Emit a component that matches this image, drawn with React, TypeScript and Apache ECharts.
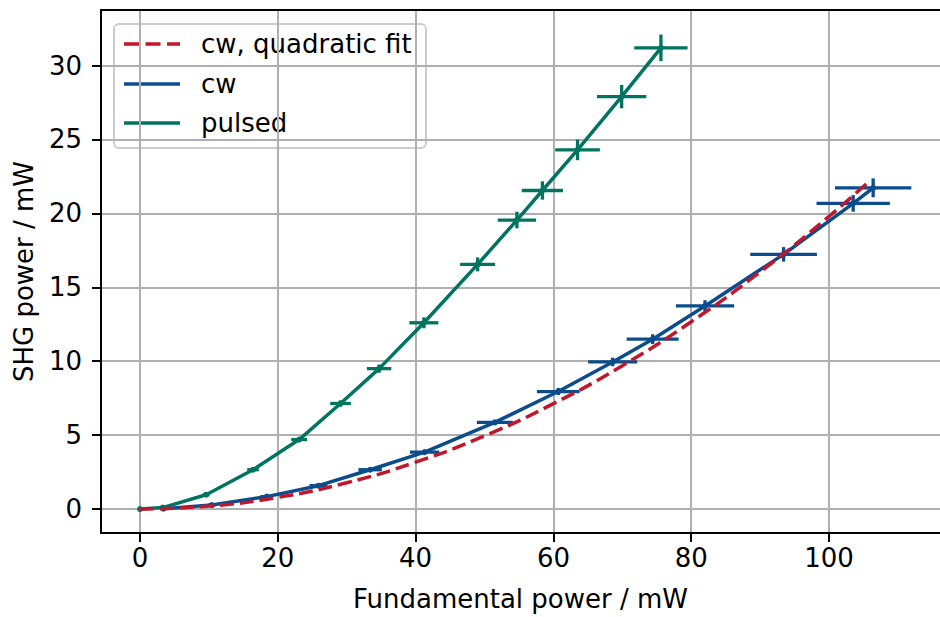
import React, { useEffect, useRef } from "react";
import * as echarts from "echarts";

// ---- data ----
const pulsedX = [0, 3.3, 9.6, 16.4, 23.1, 29.1, 34.7, 41.2, 49.0, 54.7, 58.4, 63.5, 69.9, 75.6];
const pulsedY = [0, 0.1, 0.97, 2.66, 4.7, 7.14, 9.5, 12.6, 16.55, 19.55, 21.55, 24.3, 27.9, 31.2];
const pulsedXErr = [0, 0.17, 0.49, 0.84, 1.16, 1.5, 1.77, 2.1, 2.54, 2.78, 3.0, 3.24, 3.58, 3.87];
const pulsedYErr = [0, 0.01, 0.03, 0.08, 0.14, 0.21, 0.28, 0.37, 0.47, 0.56, 0.62, 0.7, 0.79, 0.9];

const cwX = [3.4, 10.4, 18.4, 25.9, 33.4, 41.3, 51.5, 60.7, 68.6, 74.4, 82.0, 93.4, 103.5, 106.4];
const cwY = [0.02, 0.27, 0.84, 1.58, 2.66, 3.85, 5.86, 7.95, 9.95, 11.49, 13.74, 17.23, 20.68, 21.73];
const cwXErr = [0.17, 0.52, 0.94, 1.3, 1.7, 2.13, 2.61, 3.1, 3.56, 3.77, 4.23, 4.84, 5.32, 5.54];
const cwYErr = [0, 0.01, 0.03, 0.05, 0.08, 0.12, 0.18, 0.24, 0.29, 0.33, 0.39, 0.49, 0.56, 0.64];

const fitX = [0, 10, 20, 30, 40, 50, 60, 70, 80, 90, 100, 106];
const fitY = [0, 0.2, 0.79, 1.78, 3.17, 4.95, 7.13, 9.7, 12.67, 16.04, 19.8, 22.25];

const xTicks = [0, 20, 40, 60, 80, 100];
const yTicks = [0, 5, 10, 15, 20, 25, 30];

const legendLabels = ["cw, quadratic fit", "cw", "pulsed"];

const RED = "#C1172C";
const BLUE = "#0B4C8C";
const GREEN = "#007460";
const FONT = "DejaVu Sans";
const FS = 26;

function errRender(color: string) {
  return (params: any, api: any) => {
    const x = api.value(0);
    const y = api.value(1);
    const ex = api.value(2);
    const ey = api.value(3);
    const l = api.coord([x - ex, y]);
    const r = api.coord([x + ex, y]);
    const b = api.coord([x, y - ey]);
    const t = api.coord([x, y + ey]);
    return {
      type: "group",
      children: [
        { type: "line", shape: { x1: l[0], y1: l[1], x2: r[0], y2: r[1] }, style: { stroke: color, lineWidth: 3.3 } },
        { type: "line", shape: { x1: b[0], y1: b[1], x2: t[0], y2: t[1] }, style: { stroke: color, lineWidth: 3.3 } },
      ],
    };
  };
}

export default function App() {
  const ref = useRef<HTMLDivElement>(null);
  useEffect(() => {
    if (!ref.current) return;
    const chart = echarts.init(ref.current, undefined, { renderer: "svg" });
    const zip = (a: number[], b: number[]) => a.map((v, i) => [v, b[i]]);
    const zip4 = (a: number[], b: number[], c: number[], d: number[]) => a.map((v, i) => [v, b[i], c[i], d[i]]);

    const legendColors = [RED, BLUE, GREEN];
    const legendRowsY = [44, 84, 123];
    const legendChildren: any[] = [
      {
        type: "rect",
        shape: { x: 114, y: 24, width: 312, height: 124, r: 5 },
        style: { fill: "rgba(255,255,255,0.85)", stroke: "#cccccc", lineWidth: 2 },
      },
    ];
    legendLabels.forEach((lab, i) => {
      legendChildren.push({
        type: "line",
        shape: { x1: 124, y1: legendRowsY[i], x2: 180, y2: legendRowsY[i] },
        style: { stroke: legendColors[i], lineWidth: 3.5, lineDash: i === 0 ? [15, 6.5] : null },
      });
      legendChildren.push({
        type: "text",
        x: 201,
        y: legendRowsY[i],
        style: { text: lab, fill: "#000", font: `${FS}px '${FONT}'`, textVerticalAlign: "middle", verticalAlign: "middle" },
      });
    });

    const axisCommon = {
      axisLine: { show: true, onZero: false, lineStyle: { color: "#000", width: 2 } },
      axisTick: { show: true, length: 9, lineStyle: { color: "#000", width: 2 } },
      splitLine: { show: true, lineStyle: { color: "#b0b0b0", width: 2 } },
    };

    chart.setOption({
      animation: false,
      backgroundColor: "#fff",
      grid: { left: 101, top: 10, right: 0, bottom: 83, containLabel: false },
      xAxis: [
        {
          type: "value",
          min: -5.66,
          max: 116.1,
          position: "bottom",
          ...axisCommon,
          axisTick: { ...axisCommon.axisTick, customValues: xTicks },
          axisLabel: { customValues: xTicks, fontSize: FS, color: "#000", fontFamily: FONT, margin: 12 },
          name: "Fundamental power / mW",
          nameLocation: "middle",
          nameGap: 53,
          nameTextStyle: { fontSize: FS, color: "#000", fontFamily: FONT },
        },
        {
          type: "value",
          min: -5.66,
          max: 116.1,
          position: "top",
          axisLine: { show: true, onZero: false, lineStyle: { color: "#000", width: 2 } },
          axisTick: { show: false },
          axisLabel: { show: false },
          splitLine: { show: false },
        },
      ],
      yAxis: {
        type: "value",
        min: -1.62,
        max: 33.76,
        position: "left",
        ...axisCommon,
        axisTick: { ...axisCommon.axisTick, customValues: yTicks },
        axisLabel: { customValues: yTicks, fontSize: FS, color: "#000", fontFamily: FONT, margin: 19 },
        name: "SHG power / mW",
        nameLocation: "middle",
        nameGap: 64,
        nameRotate: 90,
        nameTextStyle: { fontSize: FS, color: "#000", fontFamily: FONT },
      },
      series: [
        {
          name: "cw",
          type: "line",
          data: zip(cwX, cwY),
          lineStyle: { color: BLUE, width: 3.5 },
          itemStyle: { color: BLUE },
          symbol: "circle",
          symbolSize: 6,
          showSymbol: true,
          z: 2,
        },
        {
          name: "cw err",
          type: "custom",
          data: zip4(cwX, cwY, cwXErr, cwYErr),
          encode: { x: 0, y: 1 },
          renderItem: errRender(BLUE),
          z: 3,
        },
        {
          name: "pulsed",
          type: "line",
          data: zip(pulsedX, pulsedY),
          lineStyle: { color: GREEN, width: 3.5 },
          itemStyle: { color: GREEN },
          symbol: "circle",
          symbolSize: 6,
          showSymbol: true,
          z: 2,
        },
        {
          name: "pulsed err",
          type: "custom",
          data: zip4(pulsedX, pulsedY, pulsedXErr, pulsedYErr),
          encode: { x: 0, y: 1 },
          renderItem: errRender(GREEN),
          z: 3,
        },
        {
          name: "cw, quadratic fit",
          type: "line",
          data: zip(fitX, fitY),
          smooth: true,
          symbol: "none",
          lineStyle: { color: RED, width: 3.5, type: [14, 6] },
          z: 4,
        },
      ],
      graphic: [{ type: "group", z: 100, children: legendChildren }],
    });
    return () => chart.dispose();
  }, []);
  return <div ref={ref} style={{ position: "fixed", left: 0, top: 0, width: 940, height: 617 }} />;
}
